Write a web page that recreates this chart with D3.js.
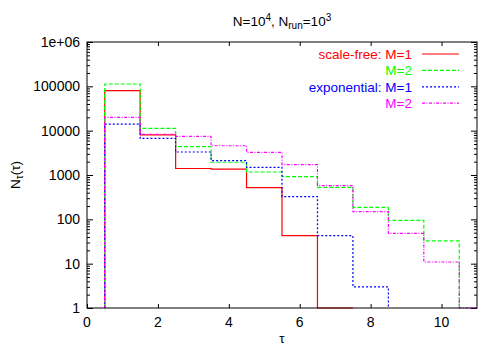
<!DOCTYPE html>
<html>
<head>
<meta charset="utf-8">
<script src="https://cdn.jsdelivr.net/npm/d3@7/dist/d3.min.js"></script>
<style>
  body { margin: 0; background: #fff; }
  text { font-family: "Liberation Sans", Arial, sans-serif; }
</style>
</head>
<body>
<div id="chart"></div>
<script>
// Data, bins centred on tau = 1, 2, 3 ...
var sfM1  = [80000, 8000, 1400, 1350, 520, 43, 1];
var sfM2  = [113000, 11300, 4350, 1940, 1170, 915, 525, 187, 95, 32.5];
var expM1 = [14100, 6700, 3300, 2100, 1490, 325, 43, 3];
var expM2 = [20000, 8300, 7460, 4570, 3250, 1720, 575, 149, 48, 10.9, 1];

var xTicks = [0, 2, 4, 6, 8, 10];
var yTicks = [1, 10, 100, 1000, 10000, 100000, 1000000];
var yTickLabels = ["1", "10", "100", "1000", "10000", "100000", "1e+06"];

var series = [
  { label: "scale-free: M=1", values: sfM1,  color: "#ff0000", dash: null },
  { label: "M=2",             values: sfM2,  color: "#00ff00", dash: "4,2" },
  { label: "exponential: M=1", values: expM1, color: "#0000ff", dash: "2,2" },
  { label: "M=2",             values: expM2, color: "#ff00ff", dash: "3,1.5,1,1.5" }
];

// Dimensions
var width = 500, height = 350;
var marginLeft = 87, marginRight = 23, marginTop = 42, marginBottom = 42;
var innerWidth = width - marginLeft - marginRight;
var innerHeight = height - marginTop - marginBottom;

var svg = d3.select("#chart").append("svg")
  .attr("width", width)
  .attr("height", height);

var x = d3.scaleLinear().domain([0, 11]).range([marginLeft, marginLeft + innerWidth]);
var y = d3.scaleLog().domain([1, 1e6]).range([marginTop + innerHeight, marginTop]);

svg.append("clipPath").attr("id", "plotclip")
  .append("rect")
  .attr("x", marginLeft).attr("y", marginTop - 1)
  .attr("width", innerWidth).attr("height", innerHeight + 2);

// axes with inward ticks, mirrored (labels drawn separately below)
var xTickLen = 4, yMajor = 6, yMinor = 3;
var bottomAx = d3.axisBottom(x).tickValues(xTicks).tickSize(-xTickLen).tickFormat("");
var topAx = d3.axisTop(x).tickValues(xTicks).tickSize(-xTickLen).tickFormat("");

var minorVals = [];
for (var e = 0; e < 6; e++) {
  for (var m = 2; m <= 9; m++) minorVals.push(m * Math.pow(10, e));
}

var leftAx = d3.axisLeft(y).tickValues(yTicks).tickSize(-yMajor).tickFormat("");
var rightAx = d3.axisRight(y).tickValues(yTicks).tickSize(-yMajor).tickFormat("");
var leftMinor = d3.axisLeft(y).tickValues(minorVals).tickSize(-yMinor).tickFormat("");
var rightMinor = d3.axisRight(y).tickValues(minorVals).tickSize(-yMinor).tickFormat("");

function styleAxis(g) {
  g.select(".domain").remove();
  g.selectAll(".tick line").attr("stroke", "#000");
  g.selectAll(".tick text").remove();
}

svg.append("g").attr("transform", "translate(0," + (marginTop + innerHeight) + ")").call(bottomAx).call(styleAxis);
svg.append("g").attr("transform", "translate(0," + marginTop + ")").call(topAx).call(styleAxis);
svg.append("g").attr("transform", "translate(" + marginLeft + ",0)").call(leftAx).call(styleAxis);
svg.append("g").attr("transform", "translate(" + (marginLeft + innerWidth) + ",0)").call(rightAx).call(styleAxis);
svg.append("g").attr("transform", "translate(" + marginLeft + ",0)").call(leftMinor).call(styleAxis);
svg.append("g").attr("transform", "translate(" + (marginLeft + innerWidth) + ",0)").call(rightMinor).call(styleAxis);

// tick labels
svg.append("g").selectAll("text").data(xTicks).enter().append("text")
  .attr("x", function(d) { return x(d); })
  .attr("y", 327)
  .attr("text-anchor", "middle")
  .attr("font-size", 14)
  .text(function(d) { return d; });

svg.append("g").selectAll("text").data(yTicks).enter().append("text")
  .attr("x", marginLeft - 7)
  .attr("y", function(d) { return y(d) + 5; })
  .attr("text-anchor", "end")
  .attr("font-size", 14)
  .text(function(d, i) { return yTickLabels[i]; });

// step lines (histogram steps)
function stepPoints(vals) {
  var pts = [[0.5, 1]];
  vals.forEach(function(v, i) {
    pts.push([i + 0.5, v]);
    pts.push([i + 1.5, v]);
  });
  pts.push([vals.length + 0.5, 1]);
  return pts;
}

var line = d3.line()
  .x(function(d) { return x(d[0]); })
  .y(function(d) { return y(d[1]); });

var plot = svg.append("g").attr("clip-path", "url(#plotclip)");
series.forEach(function(s) {
  plot.append("path")
    .attr("d", line(stepPoints(s.values)))
    .attr("fill", "none")
    .attr("stroke", s.color)
    .attr("stroke-width", 1.2)
    .attr("stroke-dasharray", s.dash);
});

// frame
svg.append("rect")
  .attr("x", marginLeft).attr("y", marginTop)
  .attr("width", innerWidth).attr("height", innerHeight)
  .attr("fill", "none").attr("stroke", "#000").attr("stroke-width", 1);

// legend
var legend = svg.append("g");
series.forEach(function(s, i) {
  var ly = 54 + i * 16.4;
  legend.append("text")
    .attr("x", 412).attr("y", ly + 5)
    .attr("text-anchor", "end")
    .attr("fill", s.color)
    .attr("font-size", 13.5)
    .text(s.label);
  legend.append("line")
    .attr("x1", 422).attr("x2", 459)
    .attr("y1", ly).attr("y2", ly)
    .attr("stroke", s.color)
    .attr("stroke-width", 1.2)
    .attr("stroke-dasharray", s.dash);
});

// title
var title = svg.append("text")
  .attr("x", marginLeft + innerWidth / 2).attr("y", 26)
  .attr("text-anchor", "middle")
  .attr("font-size", 13.5);
title.append("tspan").text("N=10");
title.append("tspan").attr("dy", -5).attr("font-size", 10).text("4");
title.append("tspan").attr("dy", 5).text(", N");
title.append("tspan").attr("dy", 3).attr("font-size", 10).text("run");
title.append("tspan").attr("dy", -3).text("=10");
title.append("tspan").attr("dy", -5).attr("font-size", 10).text("3");

// axis labels
svg.append("text")
  .attr("x", marginLeft + innerWidth / 2).attr("y", 343)
  .attr("text-anchor", "middle")
  .attr("font-size", 13.5)
  .text("τ");

var ylab = svg.append("text")
  .attr("transform", "translate(20," + (marginTop + innerHeight / 2) + ") rotate(-90)")
  .attr("text-anchor", "middle")
  .attr("font-size", 13.5);
ylab.append("tspan").text("N");
ylab.append("tspan").attr("dy", 3).attr("font-size", 10).text("τ");
ylab.append("tspan").attr("dy", -3).text("(τ)");
</script>
</body>
</html>
